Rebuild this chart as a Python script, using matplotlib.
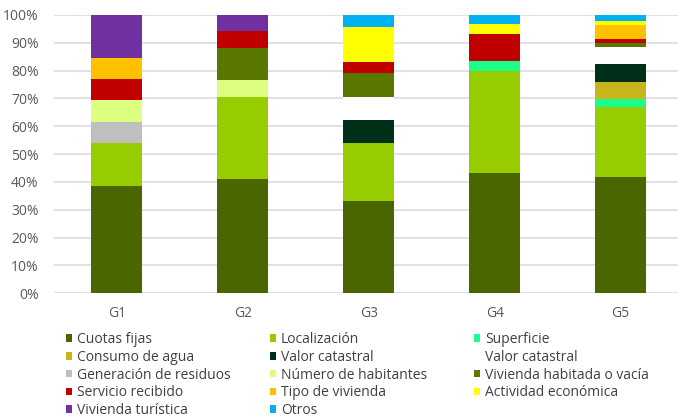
import matplotlib
matplotlib.use('Agg')
import matplotlib.pyplot as plt
import numpy as np

plt.rcParams['font.family'] = ['Open Sans', 'DejaVu Sans']

groups = ['G1', 'G2', 'G3', 'G4', 'G5']

# share of answers per group (%), bottom to top
series = ['Cuotas fijas', 'Localización', 'Superficie', 'Consumo de agua',
          'Valor catastral', 'Valor catastral', 'Generación de residuos',
          'Número de habitantes', 'Vivienda habitada o vacía', 'Servicio recibido',
          'Tipo de vivienda', 'Actividad económica', 'Vivienda turística', 'Otros']
colors = ['#4a6600', '#96cc00', '#1aff8c', '#c8b41c', '#00301a', '#ffffff',
          '#bfbfbf', '#dcff82', '#5a7800', '#c00000', '#ffc000', '#ffff00',
          '#7030a0', '#00b0f0']

cuotas     = [38.5, 41.2, 33.3, 43.3, 41.7]
localiz    = [15.4, 29.4, 20.8, 36.7, 25.4]
superficie = [0, 0, 0, 3.3, 2.7]
consumo    = [0, 0, 0, 0, 6.1]
valor_cat  = [0, 0, 8.3, 0, 6.4]
valor_cat2 = [0, 0, 8.3, 0, 6.3]
residuos   = [7.7, 0, 0, 0, 0]
habitantes = [7.7, 5.9, 0, 0, 0]
habitada   = [0, 11.8, 8.3, 0, 1.4]
servicio   = [7.7, 5.9, 4.2, 10.0, 1.3]
tipo       = [7.7, 0, 0, 0, 5.0]
actividad  = [0, 0, 12.5, 3.3, 1.4]
turistica  = [15.4, 5.9, 0, 0, 0]
otros      = [0, 0, 4.2, 3.3, 2.3]

values = [cuotas, localiz, superficie, consumo, valor_cat, valor_cat2, residuos,
          habitantes, habitada, servicio, tipo, actividad, turistica, otros]

fig = plt.figure(figsize=(6.78, 4.18), dpi=100)
ax = fig.add_axes([54/678, 1 - 293.3/418, 1 - 54/678, (293.3 - 15)/418])

x = np.arange(len(groups))
bottom = np.zeros(len(groups))
handles = []
for name, vals, col in zip(series, values, colors):
    b = ax.bar(x, vals, 0.4, bottom=bottom, color=col, label=name, zorder=2)
    handles.append(b)
    bottom += np.array(vals)

ax.set_xlim(-0.4976, 4.455)
ax.set_ylim(0, 100)
ax.set_yticks(np.arange(0, 101, 10))
ax.set_yticklabels([f'{v}%' for v in range(0, 101, 10)])
ax.set_xticks(x)
ax.set_xticklabels(groups)
ax.yaxis.grid(True, color='#d9d9d9', linewidth=1.1, zorder=0)
ax.tick_params(length=0, labelsize=10, colors='#595959')
ax.tick_params(axis='y', pad=11)
ax.tick_params(axis='x', pad=9)
for s in ax.spines.values():
    s.set_visible(False)

# legend laid out row by row in three equal columns
for c, x0 in enumerate([66, 270, 474]):
    idx = list(range(c, len(series), 3))
    leg = fig.legend([handles[i] for i in idx], [series[i] for i in idx],
                     loc='upper left', bbox_to_anchor=(x0/678, 1 - 332/418),
                     frameon=False, fontsize=10, handlelength=0.45, handleheight=0.45,
                     handletextpad=0.35, labelspacing=0.2,
                     borderpad=0, borderaxespad=0)
    for t in leg.get_texts():
        t.set_color('#404040')

fig.savefig('out.png', dpi=100)
